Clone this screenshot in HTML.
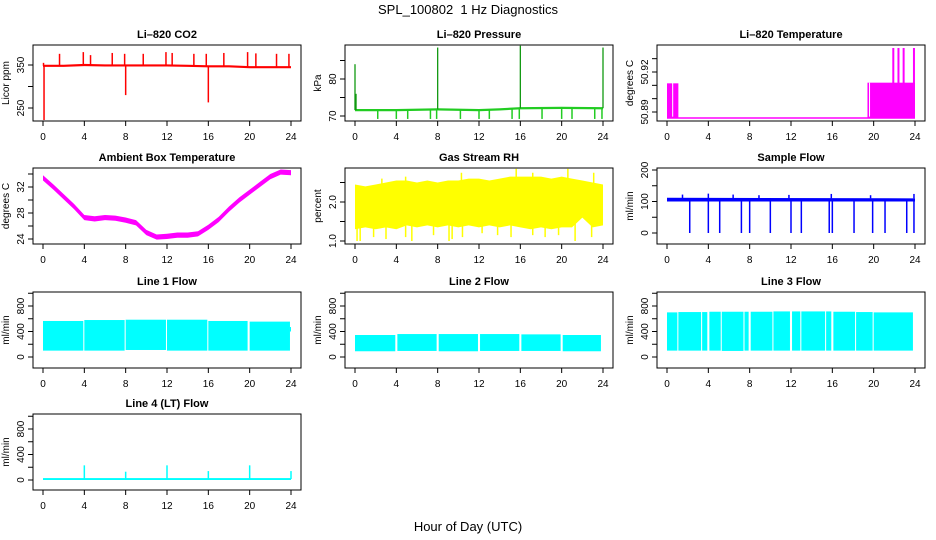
<!DOCTYPE html>
<html><head><meta charset="utf-8"><style>
html,body{margin:0;padding:0;background:#fff;}
svg{display:block;font-family:"Liberation Sans",sans-serif;}
</style></head><body>
<svg id="c" width="936" height="540" viewBox="0 0 936 540">
<text x="468" y="14" text-anchor="middle" font-size="13">SPL_100802&#160; 1 Hz Diagnostics</text>
<text x="468" y="531" text-anchor="middle" font-size="13">Hour of Day (UTC)</text>
</svg>
<script>
// ---- data ----
const xTicks = [0,4,8,12,16,20,24];
const co2Hours = [0,2,4,6,8,10,12,14,16,18,20,22,24];
const co2Base = [348,348,350,349,349,349,349,348,347,347,345,345,345];
const co2SpikeHours = [0.05,1.6,3.9,4.6,6.7,7.9,9.7,11.9,12.5,14.6,15.8,17.5,19.8,20.6,22.6,23.8,0.1,8.0,16.0];
const co2SpikeValues = [355,376,380,373,378,376,376,380,378,376,376,378,380,377,376,376,222,280,263];
const presHours = [0,4,8,12,14,16,20,24];
const presBase = [71.6,71.6,71.8,71.6,71.8,72.1,72.2,72.1];
const presDipHours = [2.2,4,5.1,7.3,7.9,10.2,12,13,15.2,15.9,18.1,20,21,23.2,23.9];
const presDipValues = [69.2,69.2,69.2,69.2,69.2,69.2,69.2,69.2,69.2,69.2,69.2,69.2,69.2,69.2,69.2];
const presSpikeHours = [0,0.1,8,16,24];
const presSpikeValues = [84,76,88.5,89,88.5];
const ltBlockStart = [0,19.4];
const ltBlockEnd = [1.1,24];
const ltBlockValue = [50.9115,50.912];
const ltBase = 50.8855;
const ltSpikeHours = [21.9,22.4,22.9,23.9];
const ltSpikeValues = [50.938,50.938,50.938,50.938];
const ambHours = [0,1,2,3,4,5,6,7,8,9,10,11,12,13,14,15,16,17,18,19,20,21,22,23,24];
const ambTemp = [33.4,32,30.5,29,27.3,27.1,27.3,27.2,26.9,26.5,25,24.3,24.4,24.6,24.6,24.8,25.8,27,28.6,30,31.2,32.4,33.6,34.3,34.2];
const rhHours = [0,1,2,3,4,5,6,7,8,9,10,11,12,13,14,15,16,17,18,19,20,21,22,23,24];
const rhUpper = [2.45,2.4,2.45,2.5,2.55,2.55,2.5,2.55,2.5,2.55,2.55,2.6,2.6,2.55,2.6,2.65,2.65,2.65,2.65,2.6,2.65,2.6,2.55,2.5,2.45];
const rhLower = [1.3,1.35,1.3,1.35,1.3,1.4,1.35,1.4,1.35,1.4,1.35,1.4,1.35,1.4,1.35,1.4,1.35,1.3,1.35,1.3,1.35,1.35,1.6,1.35,1.4];
const rhDipHours = [0.2,0.5,1.8,3.0,4.9,5.5,7.6,9.1,9.4,10.4,12.3,13.8,15.1,17.2,18.4,19.7,21.3,22.9];
const rhDipValues = [1.0,1.0,1.1,1.05,1.1,1.0,1.15,1.0,1.05,1.1,1.2,1.15,1.1,1.15,1.1,1.15,1.0,1.1];
const rhPeakHours = [2.6,4.9,10.3,15.6,17.2,20.6,23.1];
const rhPeakValues = [2.6,2.65,2.75,2.85,2.75,2.85,2.75];
const sfHours = [0,24];
const sfLower = [100,100];
const sfUpper = [112,110];
const sfDipHours = [2.2,4,5.1,7.2,8,10,12,13,15.7,16,18.1,19.9,21.1,23.2,23.9];
const sfDipValues = [0,0,0,0,0,0,0,0,0,0,0,0,0,0,0];
const sfPeakHours = [1.5,4.0,6.4,8.9,11.8,15.9,19.7,23.9];
const sfPeakValues = [122,125,122,120,121,124,120,124];
const l1Starts = [0,4,8,12,16,20];
const l1Ends = [3.9,7.9,11.9,15.9,19.8,23.9];
const l1Upper = [565,580,585,585,565,555];
const l1Lower = [100,100,110,100,100,100];
const l2Starts = [0,4.1,8.1,12.1,16.1,20.1];
const l2Ends = [3.9,7.9,11.9,15.9,19.9,23.8];
const l2Upper = [345,360,360,360,355,345];
const l2Lower = [90,95,90,95,95,90];
const l3Starts = [0,1.1,3.4,4.1,5.3,7.5,8.1,10.3,12.1,13.0,15.4,16.1,18.3,20.0];
const l3Ends = [1.0,3.3,3.9,5.2,7.4,7.9,10.2,11.9,12.9,15.3,15.9,18.2,19.9,23.8];
const l3Upper = [700,705,705,710,710,710,710,715,715,715,715,710,705,700];
const l3Lower = [100,100,100,100,95,100,100,100,100,100,100,100,100,100];
const l4Base = 15;
const l4SpikeHours = [4,8,12,16,20,24];
const l4SpikeValues = [230,130,230,140,230,140];

// ---- layout ----
const NS="http://www.w3.org/2000/svg";
const svg=document.getElementById('c');
const cols=[{x0:43,x24:291,l:33,r:301},{x0:355,x24:603,l:345,r:613},{x0:667,x24:915,l:657,r:925}];
const rows=[45,168,292,414];
const H=76;
function mk(tag,attrs,parent){const e=document.createElementNS(NS,tag);for(const k in attrs)e.setAttribute(k,attrs[k]);(parent||svg).appendChild(e);return e;}

function panel(name,col,row,title,ylab,yref,yticks,ylabels,draw){
  const c=cols[col], top=rows[row], bot=top+H;
  const g=mk('g',{});
  
  
  const sx=h=>c.x0+h/24*(c.x24-c.x0);
  const sy=v=>top+yref[1]+(v-yref[0])/(yref[2]-yref[0])*(yref[3]-yref[1]);
  const clip='clip-'+name;
  const cp=mk('clipPath',{id:clip},g);mk('rect',{x:c.l,y:top,width:c.r-c.l,height:H},cp);
  const dg=mk('g',{'clip-path':'url(#'+clip+')'},g);
  
  
  draw(dg,sx,sy);
  const box=mk('rect',{x:c.l,y:top,width:c.r-c.l,height:H,fill:'none',stroke:'#000','stroke-width':1},g);
  
  
  const t=mk('text',{x:(c.l+c.r)/2,y:top-7,'text-anchor':'middle','font-size':11,'font-weight':'bold'},g);t.textContent=title;
  
  
  const xa=mk('g',{},g);
  
  
  mk('line',{x1:sx(0),x2:sx(24),y1:bot,y2:bot,stroke:'#000'},xa);
  xTicks.forEach(h=>{mk('line',{x1:sx(h),x2:sx(h),y1:bot,y2:bot+5,stroke:'#000'},xa);
    const tl=mk('text',{x:sx(h),y:bot+19,'text-anchor':'middle','font-size':10},xa);tl.textContent=h;});
  const ya=mk('g',{},g);
  
  
  mk('line',{x1:c.l,x2:c.l,y1:sy(yticks[0]),y2:sy(yticks[yticks.length-1]),stroke:'#000'},ya);
  yticks.forEach(v=>mk('line',{x1:c.l-5,x2:c.l,y1:sy(v),y2:sy(v),stroke:'#000'},ya));
  ylabels.forEach(v=>{const y=sy(parseFloat(v));const tl=mk('text',{x:c.l-9,y:y,'text-anchor':'middle','font-size':10,transform:`rotate(-90 ${c.l-9} ${y})`},ya);tl.textContent=String(v);});
  const yl=mk('text',{x:c.l-24,y:(top+bot)/2,'text-anchor':'middle','font-size':10,transform:`rotate(-90 ${c.l-24} ${(top+bot)/2})`},g);yl.textContent=ylab;
  
  
}
function band(g,sx,sy,hs,lo,hi,col){let p=[];hs.forEach((h,i)=>p.push(sx(h)+','+sy(hi[i])));for(let i=hs.length-1;i>=0;i--)p.push(sx(hs[i])+','+sy(lo[i]));return mk('polygon',{points:p.join(' '),fill:col},g);}
function vline(g,sx,sy,h,v1,v2,col,w){return mk('line',{x1:sx(h),x2:sx(h),y1:sy(v1),y2:sy(v2),stroke:col,'stroke-width':w||1.5},g);}
function interp(hs,vs,h){for(let i=0;i<hs.length-1;i++){if(h<=hs[i+1])return vs[i]+(vs[i+1]-vs[i])*(h-hs[i])/(hs[i+1]-hs[i]);}return vs[vs.length-1];}

panel('co2',0,0,'Li–820 CO2','Licor ppm',[350,20,250,63],[250,300,350],['250','350'],(g,sx,sy)=>{
  band(g,sx,sy,co2Hours,co2Base.map(v=>v-2.5),co2Base.map(v=>v+2.5),'#ff0000');
  co2SpikeHours.forEach((h,i)=>vline(g,sx,sy,h,interp(co2Hours,co2Base,h),co2SpikeValues[i],'#ff0000',1.5));
});
panel('pressure',1,0,'Li–820 Pressure','kPa',[80,34,70,71],[70,75,80,85],['70','80'],(g,sx,sy)=>{
  band(g,sx,sy,presHours,presBase.map(v=>v-0.3),presBase.map(v=>v+0.3),'#22cc22');
  presDipHours.forEach((h,i)=>vline(g,sx,sy,h,interp(presHours,presBase,h),presDipValues[i],'#22cc22',1.5));
  presSpikeHours.forEach((h,i)=>vline(g,sx,sy,h,interp(presHours,presBase,h),presSpikeValues[i],'#119911',1.3));
});
panel('li820-temperature',2,0,'Li–820 Temperature','degrees C',[50.92,27,50.89,67],[50.89,50.9,50.91,50.92,50.93],['50.89','50.92'],(g,sx,sy)=>{
  mk('line',{x1:sx(0),x2:sx(24),y1:sy(ltBase),y2:sy(ltBase),stroke:'#ff00ff','stroke-width':1.5},g);
  ltBlockStart.forEach((s,i)=>mk('rect',{x:sx(s),y:sy(ltBlockValue[i]),width:sx(ltBlockEnd[i])-sx(s),height:sy(ltBase)-sy(ltBlockValue[i]),fill:'#ff00ff'},g));
  ltSpikeHours.forEach((h,i)=>vline(g,sx,sy,h,ltBase,ltSpikeValues[i],'#ff00ff',2));
  [0.55,19.6].forEach(h=>vline(g,sx,sy,h,ltBase+0.001,50.912,'#ffffff',1));
});
panel('ambient-temperature',0,1,'Ambient Box Temperature','degrees C',[32,19,24,71],[24,26,28,30,32,34],['24','28','32'],(g,sx,sy)=>{
  band(g,sx,sy,ambHours,ambTemp.map(v=>v-0.4),ambTemp.map(v=>v+0.4),'#ff00ff');
});
panel('gas-stream-rh',1,1,'Gas Stream RH','percent',[2.0,34,1.0,73],[1.0,1.5,2.0,2.5],['1.0','2.0'],(g,sx,sy)=>{
  band(g,sx,sy,rhHours,rhLower,rhUpper,'#ffff00');
  rhDipHours.forEach((h,i)=>vline(g,sx,sy,h,interp(rhHours,rhLower,h)+0.05,rhDipValues[i],'#ffff00',1.5));
  rhPeakHours.forEach((h,i)=>vline(g,sx,sy,h,interp(rhHours,rhUpper,h)-0.05,rhPeakValues[i],'#ffff00',1.5));
});
panel('sample-flow',2,1,'Sample Flow','ml/min',[200,2,0,65],[0,50,100,150,200],['0','100','200'],(g,sx,sy)=>{
  band(g,sx,sy,sfHours,sfLower,sfUpper,'#0000ff');
  sfDipHours.forEach((h,i)=>vline(g,sx,sy,h,100,sfDipValues[i],'#0000ff',1.5));
  sfPeakHours.forEach((h,i)=>vline(g,sx,sy,h,110,sfPeakValues[i],'#0000ff',1.5));
});
function blocks(g,sx,sy,st,en,up,lo){st.forEach((s,i)=>mk('rect',{x:sx(s),y:sy(up[i]),width:sx(en[i])-sx(s),height:sy(lo[i])-sy(up[i]),fill:'#00ffff'},g));}
panel('line1-flow',0,2,'Line 1 Flow','ml/min',[800,14,0,65],[0,200,400,600,800,1000],['0','400','800'],(g,sx,sy)=>{
  blocks(g,sx,sy,l1Starts,l1Ends,l1Upper,l1Lower);
  mk('rect',{x:sx(23.9),y:sy(470),width:sx(24)-sx(23.9),height:sy(400)-sy(470),fill:'#00ffff'},g);
});
panel('line2-flow',1,2,'Line 2 Flow','ml/min',[800,14,0,65],[0,200,400,600,800,1000],['0','400','800'],(g,sx,sy)=>{
  blocks(g,sx,sy,l2Starts,l2Ends,l2Upper,l2Lower);
});
panel('line3-flow',2,2,'Line 3 Flow','ml/min',[800,14,0,65],[0,200,400,600,800,1000],['0','400','800'],(g,sx,sy)=>{
  blocks(g,sx,sy,l3Starts,l3Ends,l3Upper,l3Lower);
});
panel('line4-flow',0,3,'Line 4 (LT) Flow','ml/min',[800,15,0,66],[0,200,400,600,800,1000],['0','400','800'],(g,sx,sy)=>{
  mk('rect',{x:sx(0),y:sy(l4Base+15),width:sx(24)-sx(0),height:sy(0)-sy(l4Base+15),fill:'#00ffff'},g);
  l4SpikeHours.forEach((h,i)=>vline(g,sx,sy,h,l4Base,l4SpikeValues[i],'#00ffff',1.5));
});
</script>
</body></html>
